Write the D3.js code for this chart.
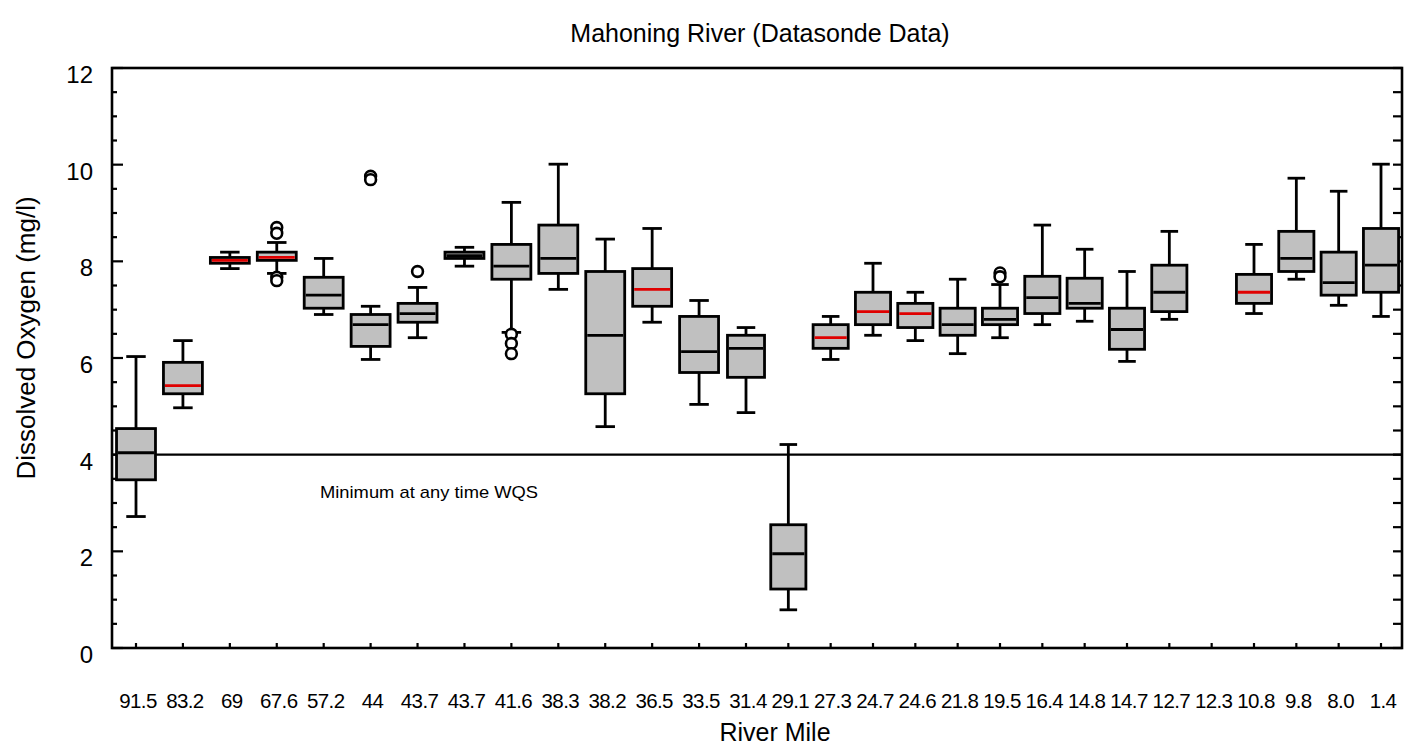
<!DOCTYPE html>
<html>
<head>
<meta charset="utf-8">
<script src="https://cdn.jsdelivr.net/npm/d3@7"></script>
<style>
  html, body { margin: 0; padding: 0; background: #fff; }
  svg { display: block; }
  text { font-family: "Liberation Sans", Arial, Helvetica, sans-serif; }
</style>
</head>
<body>
<svg id="chart" width="1414" height="749"></svg>
<script>
// River mile stations, upstream to downstream
const stations = ["91.5","83.2","69","67.6","57.2","44","43.7","43.7","41.6","38.3","38.2","36.5","33.5","31.4","29.1",
  "27.3","24.7","24.6","21.8","19.5","16.4","14.8","14.7","12.7","12.3","10.8","9.8","8.0","1.4"];

// Box-plot statistics of dissolved oxygen (mg/l); null = no data at that station
const whiskerLow = [2.72,4.97,7.85,7.75,6.90,5.97,6.42,7.90,6.53,7.42,4.58,6.74,5.04,4.87,0.79,
  5.97,6.47,6.36,6.09,6.42,6.69,6.76,5.93,6.80,null,6.92,7.63,7.09,6.86];
const quartile1 = [3.48,5.26,7.96,8.02,7.03,6.24,6.74,8.06,7.63,7.75,5.26,7.07,5.70,5.60,1.22,
  6.20,6.69,6.63,6.47,6.69,6.92,7.03,6.18,6.96,null,7.13,7.79,7.30,7.36];
const medians = [4.04,5.43,8.02,8.08,7.30,6.69,6.92,8.12,7.90,8.06,6.47,7.42,6.13,6.20,1.95,
  6.42,6.96,6.92,6.69,6.80,7.25,7.13,6.59,7.36,null,7.36,8.06,7.56,7.92];
const quartile3 = [4.54,5.91,8.08,8.19,7.67,6.90,7.13,8.19,8.35,8.75,7.79,7.85,6.86,6.47,2.55,
  6.69,7.36,7.13,7.03,7.03,7.69,7.65,7.03,7.92,null,7.73,8.62,8.19,8.68];
const whiskerHigh = [6.03,6.36,8.19,8.39,8.06,7.07,7.46,8.29,9.22,10.01,8.46,8.68,7.19,6.63,4.21,
  6.86,7.96,7.36,7.63,7.52,8.75,8.25,7.79,8.62,null,8.35,9.72,9.45,10.01];
// stations whose median is drawn in red
const redMedian = [1,2,3,11,15,16,17,25];

// Outliers: station index and value
const outlierStation = [3,3,3,3,5,5,6,8,8,8,19,19];
const outlierValue   = [8.70,8.58,7.67,7.60,9.76,9.69,7.79,6.49,6.30,6.09,7.76,7.68];

const yTicks = [0,2,4,6,8,10,12];
const wqsValue = 4;
const wqsLabel = "Minimum at any time WQS";

const svg = d3.select("#chart");
const frame = {left: 112, right: 1402, top: 68, bottom: 648};

const y = d3.scaleLinear().domain([0, 12]).range([frame.bottom, frame.top]);
// station spacing is wider for the upper reach than the lower reach
const x = d3.scaleLinear().domain([0, 13, 28]).range([136, 746, 1381]);
const step = i => x(i + 0.5) - x(i - 0.5);

const ink = "#000";
const lw = 2.8;

// minor ticks every 0.5 mg/l
const minor = d3.range(0, 12.001, 0.5);
const g = svg.append("g");

// left axis ticks (inward)
g.selectAll("line.lt").data(minor).join("line")
  .attr("x1", frame.left).attr("x2", d => frame.left + (d % 2 === 0 ? 11 : 5))
  .attr("y1", d => y(d)).attr("y2", d => y(d))
  .attr("stroke", ink).attr("stroke-width", 2.2);
// right axis ticks (inward)
g.selectAll("line.rt").data(minor).join("line")
  .attr("x1", frame.right).attr("x2", frame.right - 9)
  .attr("y1", d => y(d)).attr("y2", d => y(d))
  .attr("stroke", ink).attr("stroke-width", 2.2);
// bottom ticks at each station
g.selectAll("line.bt").data(stations).join("line")
  .attr("x1", (d, i) => x(i)).attr("x2", (d, i) => x(i))
  .attr("y1", frame.bottom).attr("y2", frame.bottom - 5)
  .attr("stroke", ink).attr("stroke-width", 2.2);

// y tick labels
g.selectAll("text.yl").data(yTicks).join("text")
  .attr("x", 93).attr("y", d => y(d) + 15)
  .attr("text-anchor", "end").attr("font-size", 24).attr("fill", ink)
  .text(d => d);

// x tick labels
g.selectAll("text.xl").data(stations).join("text")
  .attr("x", (d, i) => x(i) + 2).attr("y", 708)
  .attr("text-anchor", "middle").attr("font-size", 20.5).attr("fill", ink)
  .attr("letter-spacing", -0.6)
  .text(d => d);

// water quality standard line
g.append("line")
  .attr("x1", frame.left).attr("x2", frame.right)
  .attr("y1", y(wqsValue)).attr("y2", y(wqsValue))
  .attr("stroke", ink).attr("stroke-width", 2.2);
g.append("text")
  .attr("x", 320).attr("y", y(wqsValue) + 43)
  .attr("font-size", 17).attr("fill", ink)
  .attr("textLength", 218).attr("lengthAdjust", "spacingAndGlyphs")
  .text(wqsLabel);

// boxes
const idx = d3.range(stations.length).filter(i => medians[i] !== null);
const boxes = g.selectAll("g.box").data(idx).join("g").attr("class", "box");
const bw = i => step(i) * 0.83;

boxes.append("line") // whisker stem
  .attr("x1", i => x(i)).attr("x2", i => x(i))
  .attr("y1", i => y(whiskerLow[i])).attr("y2", i => y(whiskerHigh[i]))
  .attr("stroke", ink).attr("stroke-width", lw);
boxes.append("line") // upper cap
  .attr("x1", i => x(i) - bw(i) / 4).attr("x2", i => x(i) + bw(i) / 4)
  .attr("y1", i => y(whiskerHigh[i])).attr("y2", i => y(whiskerHigh[i]))
  .attr("stroke", ink).attr("stroke-width", lw);
boxes.append("line") // lower cap
  .attr("x1", i => x(i) - bw(i) / 4).attr("x2", i => x(i) + bw(i) / 4)
  .attr("y1", i => y(whiskerLow[i])).attr("y2", i => y(whiskerLow[i]))
  .attr("stroke", ink).attr("stroke-width", lw);
boxes.append("rect")
  .attr("x", i => x(i) - bw(i) / 2).attr("width", i => bw(i))
  .attr("y", i => y(quartile3[i])).attr("height", i => y(quartile1[i]) - y(quartile3[i]))
  .attr("fill", "#c0c0c0").attr("stroke", ink).attr("stroke-width", lw);
boxes.append("line") // median
  .attr("x1", i => x(i) - bw(i) / 2 + 1.5).attr("x2", i => x(i) + bw(i) / 2 - 1.5)
  .attr("y1", i => y(medians[i])).attr("y2", i => y(medians[i]))
  .attr("stroke", i => redMedian.includes(i) ? "#e00000" : ink).attr("stroke-width", lw);

// outliers
g.selectAll("circle.out").data(outlierValue).join("circle")
  .attr("cx", (d, k) => x(outlierStation[k])).attr("cy", d => y(d))
  .attr("r", 5.4).attr("fill", "#fff").attr("stroke", ink).attr("stroke-width", 2.6);

// frame
g.append("rect")
  .attr("x", frame.left).attr("y", frame.top)
  .attr("width", frame.right - frame.left).attr("height", frame.bottom - frame.top)
  .attr("fill", "none").attr("stroke", ink).attr("stroke-width", 2.6);

// titles
svg.append("text")
  .attr("x", 760).attr("y", 42).attr("text-anchor", "middle")
  .attr("font-size", 25).attr("fill", ink)
  .text("Mahoning River  (Datasonde Data)");
svg.append("text")
  .attr("x", 775).attr("y", 741).attr("text-anchor", "middle")
  .attr("font-size", 25).attr("fill", ink)
  .text("River Mile");
svg.append("text")
  .attr("transform", "translate(35,338) rotate(-90)").attr("text-anchor", "middle")
  .attr("font-size", 26).attr("fill", ink)
  .text("Dissolved Oxygen (mg/l)");
</script>
</body>
</html>
